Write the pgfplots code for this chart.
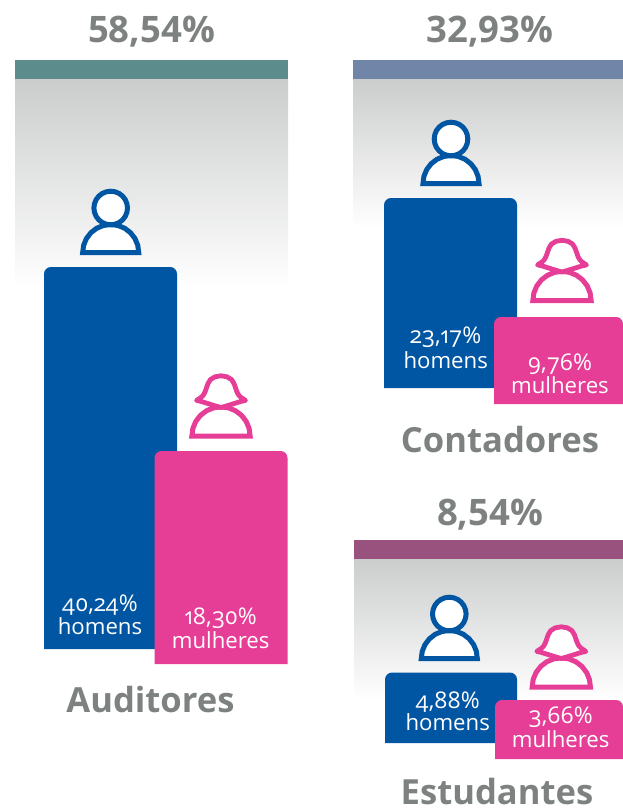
\documentclass[border=0pt]{standalone}
\usepackage{fontspec}
\setmainfont{Open Sans}
\newfontfamily\labfont[Numbers=OldStyle]{Open Sans}
\usepackage{pgfplots}
\usepackage{pgfplotstable}
\pgfplotsset{compat=1.18}
\definecolor{BarBlue}{RGB}{0,86,163}
\definecolor{BarPink}{RGB}{230,62,151}
\definecolor{TitleGray}{RGB}{125,130,128}
\definecolor{HeadTeal}{RGB}{93,140,140}
\definecolor{HeadSlate}{RGB}{112,133,168}
\definecolor{HeadPurple}{RGB}{152,82,125}
\definecolor{FadeGray}{RGB}{203,205,204}

% icon outlines, in pixels relative to the middle of the base line
\pgfplotstableread{
x y
-16.8 -44.5
-16.2 -40.15
-14.55 -36.1
-11.88 -32.62
-8.4 -29.95
-4.35 -28.3
0 -27.7
4.35 -28.3
8.4 -29.95
11.88 -32.62
14.55 -36.1
16.2 -40.15
16.8 -44.5
16.2 -48.85
14.55 -52.9
11.88 -56.38
8.4 -59.05
4.35 -60.7
0 -61.3
-4.35 -60.7
-8.4 -59.05
-11.88 -56.38
-14.55 -52.9
-16.2 -48.85
}\headtab
\pgfplotstableread{
x y
-28 0
-27.05 -7.25
-24.25 -14
-19.8 -19.8
-14 -24.25
-7.25 -27.05
0 -28
7.25 -27.05
14 -24.25
19.8 -19.8
24.25 -14
27.05 -7.25
28 0
}\bodytab
\pgfplotstableread{
x y
0 -28.5
-6 -30.2
-13 -32.4
-20 -34.6
-24.5 -35.6
-20 -38.6
-17.6 -41
-16 -44
-14.6 -48
-13 -52.5
-10.5 -56.5
-6 -59.2
0 -60.2
6 -59.2
10.5 -56.5
13 -52.5
14.6 -48
16 -44
17.6 -41
20 -38.6
24.5 -35.6
20 -34.6
13 -32.4
6 -30.2
}\hairtab
% bar outline: share of the width, offset, share of the height, offset
\pgfplotstableread{
sx dx sy dy
0 0 1 0
0 0 0 7
0 0.53 0 4.32
0 2.05 0 2.05
0 4.32 0 0.53
0 7 0 0
1 -7 0 0
1 -4.32 0 0.53
1 -2.05 0 2.05
1 -0.53 0 4.32
1 0 0 7
1 0 1 0
}\bartab

% #1 colour, #2 x left, #3 x right, #4 top, #5 bottom
\newcommand{\barshape}[5]{
  \addplot[fill=#1,draw=none] table[x expr=#2+\thisrow{sx}*(#3-#2)+\thisrow{dx},y expr=#4+\thisrow{sy}*(#5-#4)+\thisrow{dy}] {\bartab} -- cycle;
}
\newcommand{\iconplots}[4]{
  \addplot[draw=#1,fill=white,line width=5pt,line join=miter] table[x expr=\thisrow{x}+#2,y expr=\thisrow{y}+#3] {#4} -- cycle;
}
\newcommand{\manicon}[2]{
  \iconplots{BarBlue}{#1}{#2}{\bodytab}
  \iconplots{BarBlue}{#1}{#2}{\headtab}
}
\newcommand{\womanicon}[2]{
  \addplot[draw=BarPink,fill=white,line width=5pt] table[x expr=1.04*\thisrow{x}+#1,y expr=1.04*\thisrow{y}+#2] {\bodytab} -- cycle;
  \addplot[draw=BarPink,fill=white,line width=4.8pt,line join=round] table[x expr=\thisrow{x}+#1,y expr=\thisrow{y}+#2] {\hairtab} -- cycle;
}
% #1 colour, #2 x left, #3 x right, #4 strip top, #5 strip bottom, #6 end of the fade
\newcommand{\panelbg}[6]{
  \addplot[draw=none,shade,top color=FadeGray,bottom color=white] coordinates {(#2,#5) (#3,#5) (#3,#6) (#2,#6)} -- cycle;
  \addplot[draw=none,fill=#1] coordinates {(#2,#4) (#3,#4) (#3,#5) (#2,#5)} -- cycle;
}
\newcommand{\bigtext}[3]{\node[anchor=base,inner sep=0pt,text=TitleGray,font=\fontsize{36.5}{38}\selectfont\bfseries] at (axis cs:#1,#2) {#3};}
\newcommand{\bigword}[3]{\node[anchor=base,inner sep=0pt,text=TitleGray,font=\fontsize{34.6}{38}\selectfont\bfseries] at (axis cs:#1,#2) {#3};}
\newcommand{\lab}[3]{\node[anchor=base,inner sep=0pt,text=white,font=\fontsize{23}{25}\selectfont\labfont] at (axis cs:#1,#2) {#3};}
\newcommand{\labword}[3]{\node[anchor=base,inner sep=0pt,text=white,font=\fontsize{22.2}{25}\selectfont\labfont] at (axis cs:#1,#2) {#3};}

\begin{document}
\begin{tikzpicture}
\begin{axis}[
    hide axis,
    x=1pt, y=1pt,
    xmin=0, xmax=623,
    ymin=0, ymax=808,
    y dir=reverse,
    clip=false,
    anchor=south west,
    at={(0,0)},
]
% Auditores
\panelbg{HeadTeal}{15}{288}{60}{79}{290}
\barshape{BarBlue}{44}{177}{267}{649}
\barshape{BarPink}{154.5}{287.5}{451}{664}
\manicon{110.7}{252.5}
\womanicon{221}{436}
% Contadores
\panelbg{HeadSlate}{353}{623}{60}{79}{228}
\barshape{BarBlue}{384}{517}{198}{388}
\barshape{BarPink}{494}{623}{317}{404}
\manicon{451}{183.5}
\womanicon{562}{300.5}
% Estudantes
\panelbg{HeadPurple}{354}{623}{540}{559}{700}
\barshape{BarBlue}{385}{517}{672.5}{743}
\barshape{BarPink}{495}{623}{700}{759}
\manicon{449.3}{658.5}
\womanicon{561.3}{687}

\bigtext{151.5}{43}{58,54\%}
\bigtext{490}{43}{32,93\%}
\bigtext{490}{525}{8,54\%}
\bigword{150.5}{712}{Auditores}
\bigword{500}{452}{Contadores}
\bigword{497}{804.5}{Estudantes}

\lab{100}{611}{40,24\%}
\labword{100}{634}{homens}
\lab{220.7}{624}{18,30\%}
\labword{220.7}{648}{mulheres}
\lab{445.7}{343}{23,17\%}
\labword{445.7}{368}{homens}
\lab{560}{370}{9,76\%}
\labword{560}{393}{mulheres}
\lab{447.7}{708}{4,88\%}
\labword{447.7}{730}{homens}
\lab{560.7}{723}{3,66\%}
\labword{560.7}{747}{mulheres}
\end{axis}
\pgfresetboundingbox
\path[use as bounding box] (0,0) rectangle (623pt,808pt);
\end{tikzpicture}
\end{document}
